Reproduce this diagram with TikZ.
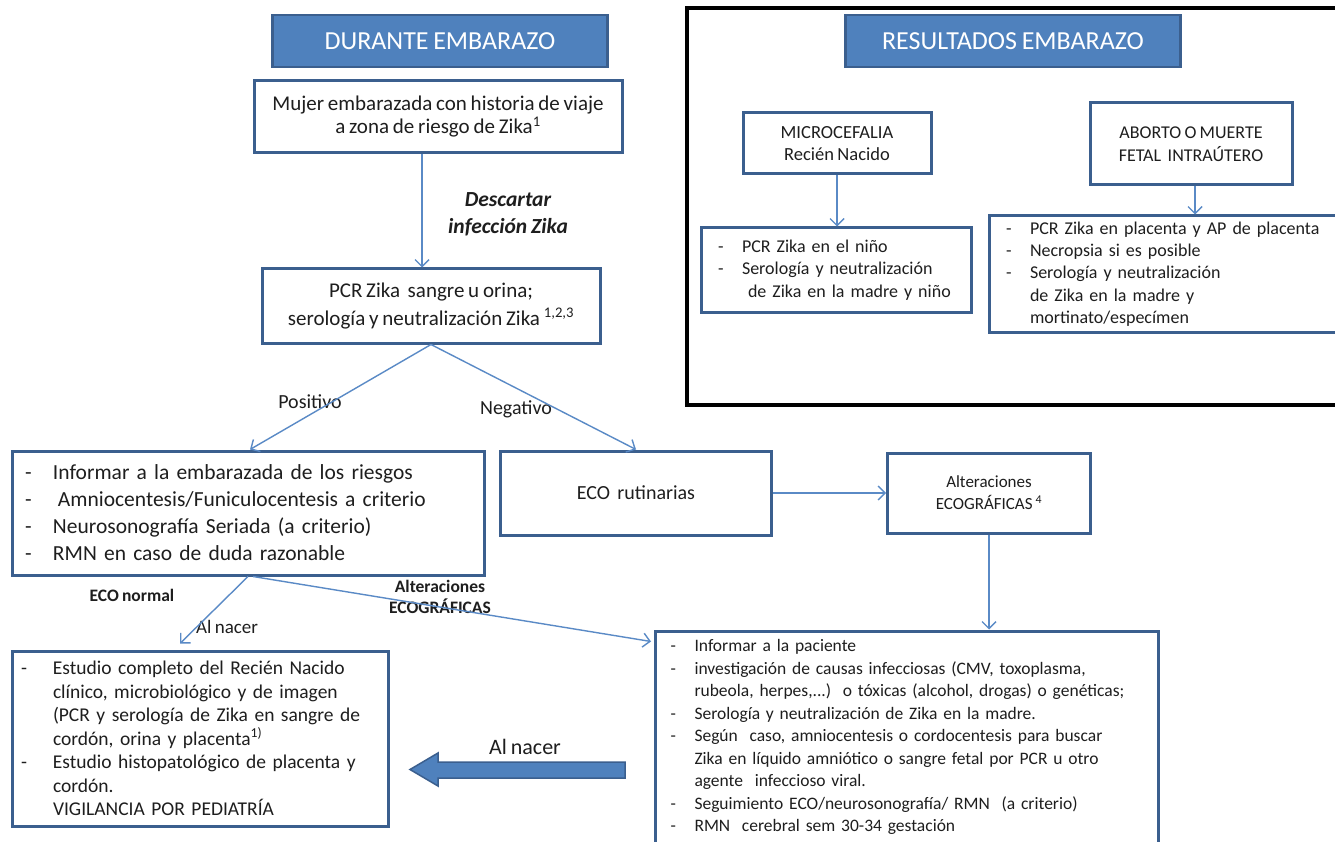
\documentclass[tikz,border=0pt]{standalone}
\usepackage{fontspec}
\setmainfont{Carlito}[WordSpace=0.8]
\usetikzlibrary{arrows.meta,calc}
\definecolor{bordblue}{HTML}{3B5F8E}
\definecolor{titfill}{HTML}{4F81BD}
\definecolor{arrblue}{HTML}{5A8AC6}
\definecolor{txtc}{HTML}{1E1E1E}
\newcommand{\fs}[2]{\fontsize{#1}{#2}\selectfont}
\newlength{\bind}
\newcommand{\bit}[1]{\mbox{\makebox[\bind][l]{-}#1}}
\newcommand{\bct}[1]{\mbox{\hspace*{\bind}#1}}
\begin{document}
\begin{tikzpicture}[x=1pt,y=-1pt,
  box/.style={draw=bordblue,line width=3pt,fill=white,text=txtc,inner ysep=0pt},
  lbox/.style={box,align=left},
  titlebox/.style={draw=bordblue,line width=2.5pt,fill=titfill,text=white,font=\fs{26}{30}},
  arr/.style={draw=arrblue,line width=1.4pt,-{Straight Barb[length=7pt,width=14pt]}},
  bigarr/.style={draw=bordblue,fill=titfill,line width=1.5pt},
  lbl/.style={text=txtc,inner sep=0pt}]
\useasboundingbox (0,0) rectangle (1335,842);
\fill[white] (0,0) rectangle (1335,842);

% frame right
\draw[line width=3.5pt] (687,8) rectangle (1348,405);

% titles
\node[titlebox,minimum width=335,minimum height=52] (dur) at (440,41) {DURANTE EMBARAZO};
\node[titlebox,minimum width=335,minimum height=52] (res) at (1013,41) {RESULTADOS EMBARAZO};

% left flow
\node[box,minimum width=368,minimum height=72,align=center,font=\fs{21}{23}] (muj) at (438,117)
  {Mujer embarazada con historia de viaje\\a zona de riesgo de Zika\textsuperscript{1}};
\node[box,minimum width=338,minimum height=74,align=center,font=\fs{21}{28}] (pcr) at (431,306)
  {PCR Zika\ \ sangre u orina;\\serología y neutralización Zika \textsuperscript{1,2,3}};
\node[lbox,minimum width=472,minimum height=124,text width=446,inner xsep=13,font=\fs{21.5}{27}] (inf) at (248,513)
  {\setlength{\bind}{28pt}\bit{Informar a la embarazada de los riesgos}\\
   \bit{\hspace{5pt}Amniocentesis/Funiculocentesis a criterio}\\
   \bit{Neurosonografía Seriada (a criterio)}\\
   \bit{RMN en caso de duda\ razonable}};
\node[box,minimum width=271,minimum height=84,font=\fs{20}{24}] (eco) at (636,493) {ECO\ \ rutinarias};
\node[box,minimum width=203,minimum height=80,align=center,font=\fs{17}{22}] (alt) at (989,493)
  {Alteraciones\\ECOGRÁFICAS \textsuperscript{4}};
\node[lbox,minimum width=503,minimum height=212,text width=473,inner xsep=15,font=\fs{17.5}{22.5}] (rb) at (907,737)
  {\setlength{\bind}{24pt}\bit{Informar a la paciente}\\
   \bit{investigación de causas infecciosas (CMV, toxoplasma,}\\
   \bct{rubeola, herpes,...)\ \ o tóxicas (alcohol, drogas) o genéticas;}\\
   \bit{Serología y neutralización de Zika en la madre.}\\
   \bit{Según\ \ caso, amniocentesis o cordocentesis para buscar}\\
   \bct{Zika en líquido amniótico o sangre fetal por PCR u otro}\\
   \bct{agente\ \ infeccioso viral.}\\
   \bit{Seguimiento ECO/neurosonografía/ RMN\ \ (a criterio)}\\
   \bit{RMN\ \ cerebral sem 30-34 gestación}};
\node[lbox,minimum width=376,minimum height=175,text width=358,inner xsep=9,font=\fs{19.5}{23.5}] (bl) at (200,738.5)
  {\setlength{\bind}{32pt}\bit{Estudio completo del Recién Nacido}\\
   \bct{clínico, microbiológico y de imagen}\\
   \bct{(PCR y serología de Zika en sangre de}\\
   \bct{cordón, orina y placenta\textsuperscript{1)}}\\
   \bit{Estudio histopatológico de placenta y}\\
   \bct{cordón.}\\
   \bct{VIGILANCIA POR PEDIATRÍA}};

% right results
\node[box,minimum width=188,minimum height=61,align=center,font=\fs{18.5}{22.5}] (mic) at (837,143.5)
  {MICROCEFALIA\\Recién Nacido};
\node[box,minimum width=202,minimum height=82,align=center,font=\fs{18}{22.5}] (abo) at (1191,144)
  {ABORTO O MUERTE\\FETAL\ \ INTRAÚTERO};
\node[lbox,minimum width=270,minimum height=84,text width=236,inner xsep=17,font=\fs{18}{22.5}] (nin) at (836,270)
  {\setlength{\bind}{24pt}\bit{PCR Zika en el niño}\\
   \bit{Serología y neutralización}\\
   \bct{\ de Zika en la madre y niño}};
\node[lbox,minimum width=360,minimum height=116,text width=326,inner xsep=17,font=\fs{18}{22.3}] (pla) at (1169,274)
  {\setlength{\bind}{24pt}\bit{PCR Zika en placenta y AP de placenta}\\
   \bit{Necropsia si es posible}\\
   \bit{Serología y neutralización}\\
   \bct{de Zika en la madre y}\\
   \bct{mortinato/especímen}};

% labels
\node[lbl,font=\fs{21.5}{27}\bfseries\itshape,align=center] (desc) at (508,214.5) {Descartar\\infección Zika};
\node[lbl,font=\fs{20}{24}] (pos) at (310,402) {Positivo};
\node[lbl,font=\fs{20}{24}] (neg) at (516,409) {Negativo};
\node[lbl,font=\fs{17.5}{20}\bfseries] (econ) at (132,595) {ECO normal};
\node[lbl,font=\fs{17.5}{21}\bfseries,align=center] (altl) at (440,597) {Alteraciones\\ECOGRÁFICAS};
\node[lbl,font=\fs{19}{22}] (nac1) at (227,627) {Al nacer};
\node[lbl,font=\fs{22}{24}] (nac2) at (525,747) {Al nacer};

% connectors
\draw[arr] ([xshift=-16pt]muj.south) -- ([xshift=-16pt]muj.south |- pcr.north);
\draw[arr] (pcr.south) -- ([xshift=2pt]inf.north);
\draw[arr] (pcr.south) -- (eco.north);
\draw[arr] (eco.east) -- (alt.west);
\draw[arr] (alt.south) -- (alt.south |- rb.north);
\draw[arr] (inf.south) -- ([xshift=-20pt,yshift=6pt]bl.north);
\draw[arr] ([xshift=5pt]inf.south) -- ([xshift=-3pt,yshift=-12pt]rb.north west);
\draw[arr] (mic.south) -- (mic.south |- nin.north);
\draw[arr] ([xshift=4pt]abo.south) -- ([xshift=4pt]abo.south |- pla.north);

% big arrow
\draw[bigarr] (625,762) -- (438,762) -- (438,753) -- (410,769.5) -- (438,786) -- (438,778) -- (625,778) -- cycle;
\end{tikzpicture}
\end{document}
